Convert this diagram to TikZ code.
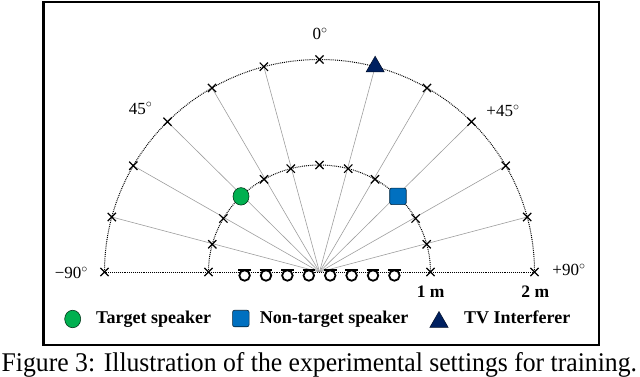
\documentclass[tikz,border=0pt]{standalone}
\usepackage{graphicx}
\usepackage{fontspec}
\setmainfont{Liberation Serif}
\usetikzlibrary{shapes.misc,shapes.geometric}
\definecolor{tgreen}{RGB}{0,176,80}
\definecolor{tblue}{RGB}{0,112,192}
\definecolor{tnavy}{RGB}{0,32,96}
\begin{document}
\begin{tikzpicture}[x=1pt,y=-1pt,
 ray/.style={draw=black!38, line width=0.6pt},
 dotline/.style={line width=1pt, dash pattern=on 0.9pt off 1pt},
 xmk/.style={draw, cross out, minimum size=7pt, inner sep=0pt, line width=1.2pt},
 tgt/.style={ellipse, draw=black!70!tgreen, line width=0.6pt, fill=tgreen, minimum width=16pt, minimum height=17.5pt, inner sep=0pt},
 ntg/.style={rectangle, rounded corners=2pt, draw=black!70!tblue, fill=tblue, minimum size=16.5pt, inner sep=0pt, line width=0.6pt},
 tv/.style={regular polygon, regular polygon sides=3, fill=tnavy, draw=black!60!tnavy, minimum size=21pt, inner sep=0pt, line width=0.5pt},
 ang/.style={font=\fontsize{17}{17}\selectfont, inner sep=0pt},
 dist/.style={font=\fontsize{17.5}{18}\selectfont\bfseries, inner sep=0pt},
 leg/.style={font=\fontsize{18}{18}\selectfont\bfseries, inner sep=0pt, anchor=base west},
 mic/.style={circle, draw, line width=1.8pt, minimum size=10.5pt, inner sep=0pt, fill=white},
 micbar/.style={line width=2.4pt},
]
\useasboundingbox (0,0) rectangle (640,377);
\draw[line width=2.6pt] (43.5,2) rectangle (599,345);
\coordinate (C) at (319.5,272);
\foreach \a in {-90,-75,...,90}{
  \coordinate (O\a) at ({319.5+215*sin(\a)},{272-212.5*cos(\a)});
  \coordinate (I\a) at ({319.5+111*sin(\a)},{272-107*cos(\a)});
}
% radial lines
\foreach \a in {-75,-60,-45,-30,-15,15,30,45,60,75}
  \draw[ray] (C) -- (O\a);
% dotted arcs and baseline
\draw[dotline] (O-90) arc[start angle=180, end angle=0, x radius=215pt, y radius=212.5pt];
\draw[dotline] (I-90) arc[start angle=180, end angle=0, x radius=111pt, y radius=107pt];
\draw[dotline] (O-90) -- (O90);
% marks
\foreach \a in {-90,-75,-60,-45,-30,-15,0,30,45,60,75,90}
  \node[xmk] (xo\a) at (O\a) {};
\foreach \a in {-90,-75,-60,-30,-15,0,15,30,60,75,90}
  \node[xmk] (xi\a) at (I\a) {};
% speakers
\node[tgt] (tgt) at (I-45) {};
\node[ntg] (ntg) at (I45) {};
\node[tv] (tvi) at (O15) {};
% microphone array
\foreach \i in {1,...,8}{
  \pgfmathsetmacro\mx{319.5+(\i-4.5)*21.4}
  \node[mic] (m\i) at (\mx,275.5) {};
  \draw[micbar] ([xshift=-6.3pt,yshift=-0.4pt]m\i.north) -- ([xshift=6.3pt,yshift=-0.4pt]m\i.north);
}
% angle labels
\node[ang] (l0) at (320,34) {0${}^{\circ}$};
\node[ang] (l45) at (140.5,108.5) {45${}^{\circ}$};
\node[ang] (lp45) at (503,111) {+45${}^{\circ}$};
\node[ang] (lm90) at (71.4,273) {−90${}^{\circ}$};
\node[ang] (lp90) at (569,270) {+90${}^{\circ}$};
% distance labels
\node[dist] (d1) at (430.6,292) {1 m};
\node[dist] (d2) at (535.3,292) {2 m};
% legend
\node[tgt] (lg1) at (72.7,319) {};
\node[leg] (lt1) at (96,323) {Target speaker};
\node[ntg] (lg2) at (240.8,318.5) {};
\node[leg] (lt2) at (259.6,323) {Non-target speaker};
\node[tv] (lg3) at (439,322) {};
\node[leg] (lt3) at (464,323) {TV Interferer};
% caption
\node[anchor=base west, inner sep=0pt, font=\fontsize{27}{27}\selectfont] (cap) at (1.5,371)
  {\scalebox{0.952}[1]{Figure 3: Illustration of the experimental settings for training.}};
\end{tikzpicture}
\end{document}
